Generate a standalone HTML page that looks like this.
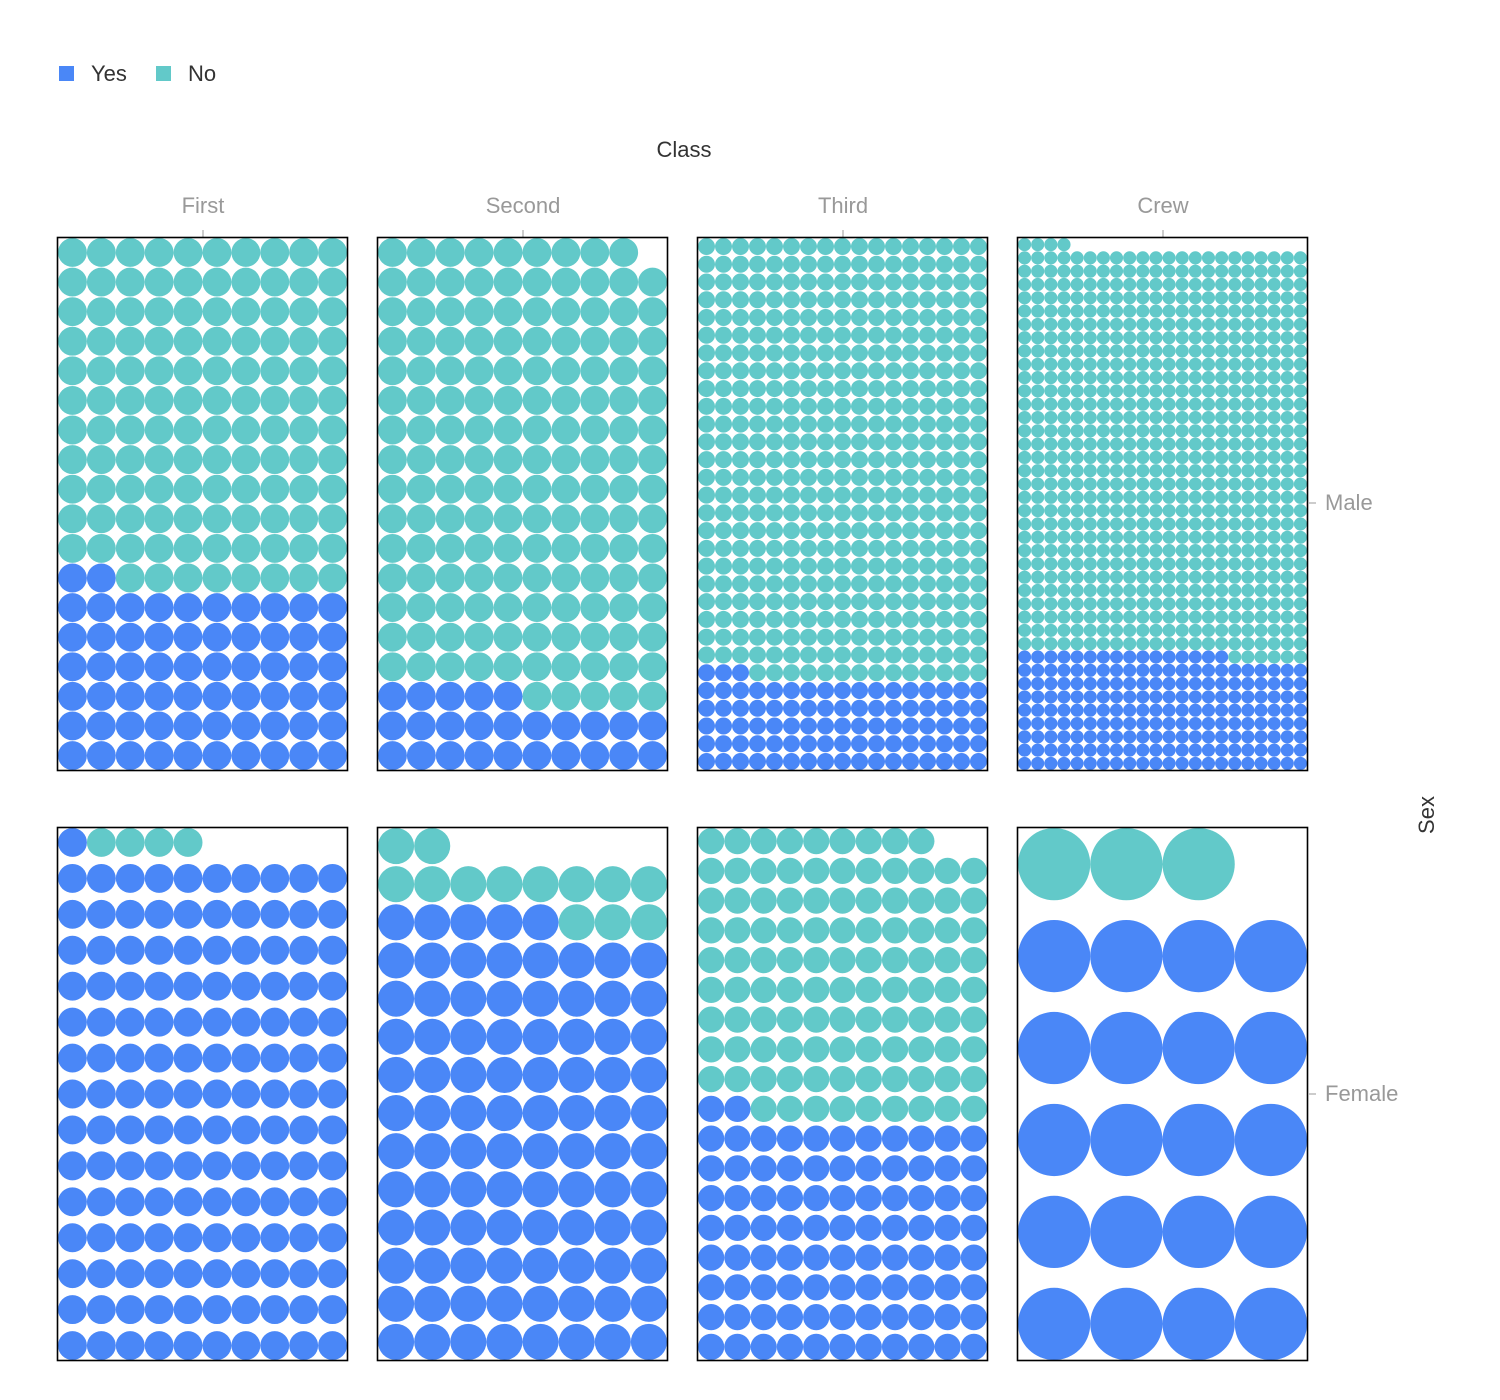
<!DOCTYPE html>
<html><head><meta charset="utf-8"><style>
html,body{margin:0;padding:0;background:#fff;}
svg{display:block;font-family:"Liberation Sans",Arial,sans-serif;}
</style></head><body>
<svg id="s" width="1500" height="1400" viewBox="0 0 1500 1400" xmlns="http://www.w3.org/2000/svg">
<rect x="59" y="66" width="15" height="15" fill="#4a87f7"/>
<text x="91" y="81" font-size="22" fill="#333">Yes</text>
<rect x="156" y="66" width="15" height="15" fill="#62c9c9"/>
<text x="188" y="81" font-size="22" fill="#333">No</text>
<text x="684" y="157" font-size="22" fill="#333" text-anchor="middle">Class</text>
<g font-size="22" fill="#999" text-anchor="middle">
<text x="203" y="213">First</text>
<text x="523" y="213">Second</text>
<text x="843" y="213">Third</text>
<text x="1163" y="213">Crew</text>
</g>
<g stroke="#999" stroke-width="1">
<line x1="203" y1="230" x2="203" y2="237"/>
<line x1="523" y1="230" x2="523" y2="237"/>
<line x1="843" y1="230" x2="843" y2="237"/>
<line x1="1163" y1="230" x2="1163" y2="237"/>
<line x1="1309" y1="503" x2="1316" y2="503"/>
<line x1="1309" y1="1094" x2="1316" y2="1094"/>
</g>
<text x="1325" y="510" font-size="22" fill="#999">Male</text>
<text x="1325" y="1101" font-size="22" fill="#999">Female</text>
<text x="0" y="0" font-size="22" fill="#333" text-anchor="middle" transform="translate(1434,815) rotate(-90)">Sex</text>
<g id="c"></g>
</svg>
<script>
var B="#4a87f7",T="#62c9c9";
function panel(x,y,cols,rows,spec){
  var w=289,h=532,d=Math.min(w/cols,h/rows),r=d/2;
  var px=cols>1?(w-d)/(cols-1):0, py=rows>1?(h-d)/(rows-1):0;
  var s="";
  for(var i=0;i<rows;i++){var row=spec(i);
    for(var j=0;j<row.length;j++){if(!row[j])continue;
      s+='<circle cx="'+(x+r+j*px).toFixed(2)+'" cy="'+(y+r+i*py).toFixed(2)+'" r="'+(r).toFixed(2)+'" fill="'+row[j]+'"/>';}}
  s+='<rect x="'+(x-0.5)+'" y="'+(y-0.5)+'" width="'+(w+1)+'" height="'+(h+1)+'" fill="none" stroke="#000" stroke-width="1.6"/>';
  return s;
}
function rep(c,n){var a=[];for(var i=0;i<n;i++)a.push(c);return a;}
var out="";
out+=panel(58,238,10,18,function(i){ if(i<11)return rep(T,10); if(i==11)return rep(B,2).concat(rep(T,8)); return rep(B,10);});
out+=panel(378,238,10,18,function(i){ if(i==0)return rep(T,9); if(i<15)return rep(T,10); if(i==15)return rep(B,5).concat(rep(T,5)); return rep(B,10);});
out+=panel(698,238,17,30,function(i){ if(i<24)return rep(T,17); if(i==24)return rep(B,3).concat(rep(T,14)); return rep(B,17);});
out+=panel(1018,238,22,40,function(i){ if(i==0)return rep(T,4); if(i<31)return rep(T,22); if(i==31)return rep(B,16).concat(rep(T,6)); return rep(B,22);});
out+=panel(58,828,10,15,function(i){ if(i==0)return [B].concat(rep(T,4)); return rep(B,10);});
out+=panel(378,828,8,14,function(i){ if(i==0)return rep(T,2); if(i==1)return rep(T,8); if(i==2)return rep(B,5).concat(rep(T,3)); return rep(B,8);});
out+=panel(698,828,11,18,function(i){ if(i==0)return rep(T,9); if(i<9)return rep(T,11); if(i==9)return rep(B,2).concat(rep(T,9)); return rep(B,11);});
out+=panel(1018,828,4,6,function(i){ if(i==0)return rep(T,3); return rep(B,4);});
document.getElementById("c").innerHTML=out;
</script>
</body></html>
